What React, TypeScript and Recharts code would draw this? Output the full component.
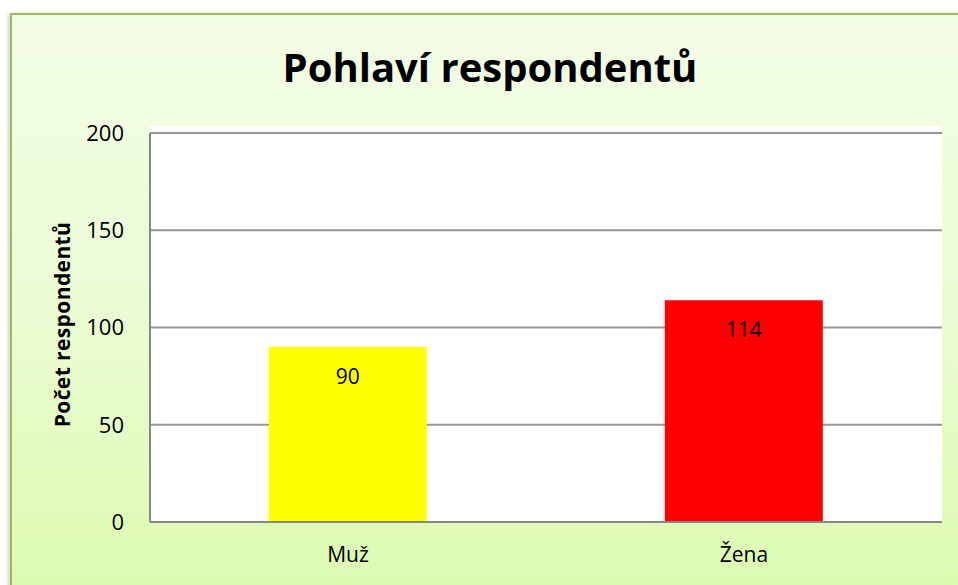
import { BarChart, Bar, XAxis, YAxis, CartesianGrid, Cell, LabelList } from 'recharts';

const categories = ['Muž', 'Žena'];
const counts = [90, 114];
const barColors = ['#ffff00', '#ff0000'];
const yTicks = [0, 50, 100, 150, 200];

const data = categories.map((name, i) => ({ name, value: counts[i] }));

const FONT = '"Open Sans", Lato, sans-serif';

function YTitle({ viewBox }: { viewBox?: { x: number; y: number; width: number; height: number } }) {
  if (!viewBox) return null;
  const cx = viewBox.x + 62;
  const cy = viewBox.y + viewBox.height / 2 - 3;
  return (
    <text
      x={cx}
      y={cy}
      transform={`rotate(-90, ${cx}, ${cy})`}
      textAnchor="middle"
      dominantBaseline="central"
      fontFamily={FONT}
      fontWeight="bold"
      fontSize={21}
      letterSpacing={0.4}
      fill="#000"
    >
      Počet respondentů
    </text>
  );
}

export default function App() {
  return (
    <div
      style={{
        position: 'fixed',
        left: 0,
        top: 0,
        width: 958,
        height: 585,
        background: '#fff',
        overflow: 'hidden',
        fontFamily: FONT,
      }}
    >
      {/* chart frame */}
      <div
        style={{
          position: 'absolute',
          left: 10,
          top: 13,
          width: 960,
          height: 590,
          borderLeft: '2px solid #9bbb59',
          borderTop: '2px solid #9bbb59',
          background: 'linear-gradient(to bottom, #f2fde5 0%, #ecfcd6 45%, #dbfbae 100%)',
          boxShadow: '-2px 1px 4px rgba(0,0,0,0.18)',
        }}
      />
      {/* plot area */}
      <div
        style={{
          position: 'absolute',
          left: 150,
          top: 126,
          width: 792,
          height: 396,
          background: '#fff',
        }}
      />
      <div
        style={{
          position: 'absolute',
          left: 0,
          top: 40,
          width: 980,
          textAlign: 'center',
          fontWeight: 'bold',
          fontSize: 40,
          lineHeight: '54px',
          color: '#000',
        }}
      >
        Pohlaví respondentů
      </div>
      <div style={{ position: 'absolute', left: 0, top: 0 }}>
        <BarChart
          width={958}
          height={585}
          data={data}
          margin={{ top: 133, right: 16, bottom: 23, left: 0 }}
          barCategoryGap="30%"
        >
          <CartesianGrid vertical={false} stroke="#959595" strokeWidth={2} />
          <XAxis
            dataKey="name"
            axisLine={{ stroke: '#868686', strokeWidth: 2 }}
            tickLine={false}
            tickSize={0}
            tickMargin={25}
            height={40}
            tick={{ fill: '#000', fontSize: 21, fontFamily: FONT }}
          />
          <YAxis
            domain={[0, 200]}
            ticks={yTicks}
            width={150}
            axisLine={{ stroke: '#868686', strokeWidth: 2 }}
            tickLine={false}
            tickSize={0}
            tickMargin={26}
            tick={{ fill: '#000', fontSize: 22, fontFamily: FONT }}
            label={<YTitle />}
          />
          <Bar dataKey="value" isAnimationActive={false}>
            {data.map((d, i) => (
              <Cell key={d.name} fill={barColors[i]} />
            ))}
            <LabelList
              dataKey="value"
              position="insideTop"
              offset={22}
              fill="#000"
              fontSize={21}
              fontFamily={FONT}
            />
          </Bar>
        </BarChart>
      </div>
    </div>
  );
}
